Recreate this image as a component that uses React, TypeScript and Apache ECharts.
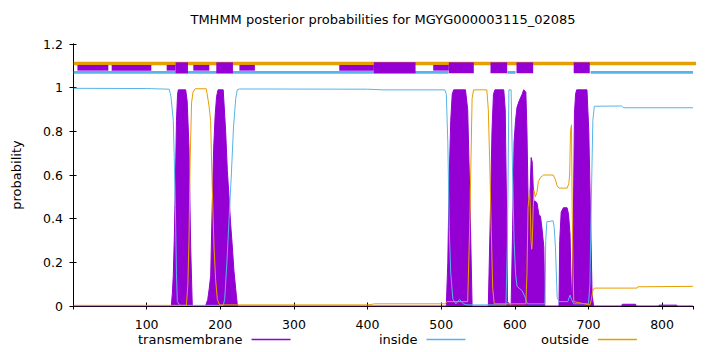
import React, { useEffect, useRef } from 'react';
import * as echarts from 'echarts';

const TITLE = 'TMHMM posterior probabilities for MGYG000003115_02085';
const SEQ_LENGTH = 842;
const X_TICK_STEP = 100;
const Y_TICK_STEP = 0.2;

const PURPLE = '#9400d3';
const BLUE = '#56b4e9';
const ORANGE = '#e69f00';
const FONT = 'DejaVu Sans';

// posterior probability of transmembrane helix, [residue, p]
const transmembrane: [number, number][] = [
  [1, 0], [133.5, 0], [135, 0.06], [136.2, 0.14], [137.5, 0.3], [139, 0.55], [140.5, 0.85], [142, 0.97],
  [143, 0.99], [153, 0.99], [155, 0.94], [157.5, 0.73], [159.8, 0.27], [162, 0],
  [180, 0], [183, 0.03], [185, 0.08], [187, 0.14], [189, 0.45], [191, 0.72], [193, 0.87], [195, 0.96],
  [197, 0.99], [204, 0.99], [207.3, 0.8], [209.6, 0.62], [211.9, 0.5], [214, 0.38], [216.4, 0.27],
  [218.6, 0.16], [220.9, 0.08], [223, 0.01], [224, 0],
  [507, 0], [509, 0.2], [511, 0.6], [513, 0.85], [515, 0.97], [517, 0.99], [533, 0.99], [536, 0.9],
  [539, 0.5], [542, 0],
  [564, 0], [565, 0.15], [567, 0.45], [569, 0.8], [571, 0.97], [573, 0.99], [585, 0.99], [587, 0.9],
  [589, 0.4], [590, 0.02], [595, 0],
  [597, 0.35], [599, 0.75], [601, 0.85], [603, 0.91], [606, 0.94], [610, 0.97], [612, 0.99], [615, 0.98],
  [616.5, 0.8], [618, 0.5], [619.5, 0.45], [621, 0.55], [622.2, 0.68], [623.6, 0.66], [625.8, 0.48],
  [628, 0.48], [630.3, 0.47], [632.6, 0.42], [634.9, 0.41], [637.1, 0.35], [639.4, 0.27], [640.7, 0],
  [660, 0], [661, 0.3], [663, 0.43], [666, 0.45], [671, 0.45], [673, 0.42], [675, 0.33], [676.5, 0.1],
  [677.5, 0], [678, 0], [679.5, 0.4], [681, 0.88], [682.5, 0.97], [684, 0.99], [698, 0.99], [700.5, 0.8],
  [702.8, 0.42], [705, 0.05], [707, 0],
  [745, 0], [746, 0.008], [764, 0.008], [765, 0], [795, 0], [796, 0.004], [820, 0.004], [821, 0], [842, 0],
];

// posterior probability of inside, [residue, p]
const inside: [number, number][] = [
  [1, 0.997], [100, 0.996], [130.7, 0.993], [133, 0.96], [136.2, 0.85], [137.5, 0.68], [139, 0.45],
  [140.5, 0.15], [141.7, 0.02], [145, 0.003],
  [204, 0.003], [206, 0.03], [209, 0.2], [212, 0.4], [215, 0.6], [218, 0.82], [221, 0.95], [223, 0.99],
  [226, 0.994], [400, 0.993], [420, 0.99], [505, 0.99], [507, 0.97], [509, 0.75], [511, 0.35],
  [513, 0.15], [516, 0.03], [520, 0.01], [525, 0.03], [530, 0.01], [535, 0.005],
  [588, 0.005], [590, 0.3], [592, 0.99], [595, 0.99], [597, 0.6], [599, 0.3], [601, 0.15], [603, 0.09],
  [610, 0.07], [614, 0.04], [617, 0.01], [641, 0.01], [642, 0.3], [643.5, 0.386], [652, 0.39],
  [653.5, 0.36], [655.2, 0.27], [657.5, 0.04], [660, 0.02], [672, 0.02], [675, 0.05], [677, 0.03],
  [680, 0.01], [700, 0.01], [702, 0.1], [704, 0.5], [706, 0.85], [708, 0.915], [745, 0.916],
  [748, 0.908], [842, 0.908],
];

// posterior probability of outside, [residue, p]
const outside: [number, number][] = [
  [1, 0.003], [154, 0.003], [156, 0.1], [157.5, 0.3], [159, 0.65], [161, 0.93], [163, 0.98], [166, 0.995],
  [181, 0.995], [184.6, 0.92], [186.9, 0.85], [189.2, 0.53], [191.5, 0.27], [193.7, 0.12], [196, 0.03],
  [199, 0.005], [400, 0.005], [410, 0.01], [505, 0.01], [508, 0.02], [536, 0.02], [539, 0.4], [542, 0.95],
  [544, 0.99], [562, 0.99], [564, 0.9], [566, 0.65], [568, 0.35], [570, 0.08], [572, 0.01], [615, 0.01],
  [616.5, 0.15], [618, 0.45], [620, 0.53], [621, 0.45], [622, 0.3], [623, 0.26], [623.6, 0.28], [625, 0.45],
  [626, 0.53], [628, 0.5], [630, 0.52], [632, 0.57], [635, 0.59], [639, 0.6], [652, 0.6], [655, 0.58],
  [657.5, 0.55], [660, 0.54], [671, 0.54], [673.3, 0.56], [674.5, 0.6], [675.6, 0.8], [677, 0.83],
  [677.9, 0.45], [679.2, 0.15], [680.1, 0.02], [702, 0.005], [704, 0.03], [706, 0.07], [708, 0.082],
  [766, 0.082], [767, 0.088], [842, 0.09],
];

// predicted topology strip at the top
const TOP_OUTSIDE_Y = 1.111;
const TOP_INSIDE_Y = 1.07;
const topOutsideSpan: [number, number] = [1, 879];
const topInsideSegments: [number, number][] = [[1, 510], [590, 601], [703, 842]];
const topTmBlocks: [number, number][] = [
  [6, 48], [52.5, 106.4], [127.2, 139.4], [163.4, 185.1], [226, 247], [361.6, 408.6], [489.2, 510.4],
];
const topTmBlocksTall: [number, number][] = [
  [139.4, 156.1], [194.6, 217.2], [408.6, 465.2], [510.4, 544.3], [567, 589.6], [602.3, 624.9], [680, 701.8],
];
const TM_BAND: [number, number] = [1.078, 1.104];
const TM_BAND_TALL: [number, number] = [1.066, 1.116];

function blockSeries(name: string, blocks: [number, number][], band: [number, number]) {
  return {
    type: 'custom',
    name,
    silent: true,
    z: 5,
    color: PURPLE,
    encode: { x: [0, 1], y: [2, 3] },
    data: blocks.map(([a, b]) => [a, b, band[0], band[1]]),
    renderItem: (_params: any, api: any) => {
      const s = api.coord([api.value(0), api.value(3)]);
      const e = api.coord([api.value(1), api.value(2)]);
      return {
        type: 'rect',
        shape: { x: s[0], y: s[1], width: e[0] - s[0], height: e[1] - s[1] },
        style: { fill: PURPLE },
      };
    },
  };
}

export default function App() {
  const ref = useRef<HTMLDivElement>(null);
  useEffect(() => {
    if (!ref.current) return;
    document.body.style.margin = '0';
    const chart = echarts.init(ref.current, null, { renderer: 'svg' });
    const axisLine = { show: true, lineStyle: { color: '#000', width: 1 } };
    const tick = { show: true, inside: true, length: 3.5, lineStyle: { color: '#000' } };
    const insideTop: any[] = [];
    topInsideSegments.forEach(([a, b]) => {
      insideTop.push([a, TOP_INSIDE_Y], [b, TOP_INSIDE_Y], [b, '-']);
    });
    const legendBase = {
      orient: 'horizontal',
      align: 'right',
      icon: 'rect',
      itemWidth: 39,
      itemHeight: 1.5,
      selectedMode: false,
      textStyle: { color: '#000', fontSize: 13, fontFamily: FONT, padding: [0, 4, 0, 0] },
      padding: 0,
    };
    const legendItem = (name: string, color: string) => ({
      name,
      icon: 'rect',
      itemStyle: { color, borderWidth: 0, opacity: 1 },
    });
    chart.setOption({
      animation: false,
      backgroundColor: '#fff',
      color: [PURPLE, BLUE, ORANGE, ORANGE, BLUE, PURPLE, PURPLE],
      title: {
        text: TITLE,
        left: 383,
        textAlign: 'center',
        top: 13,
        padding: 0,
        textStyle: { color: '#000', fontSize: 13, fontWeight: 'normal', fontFamily: FONT },
      },
      legend: [
        { ...legendBase, data: [legendItem('transmembrane', PURPLE)], left: 138, top: 333 },
        { ...legendBase, data: [legendItem('inside', BLUE)], left: 379, top: 333 },
        { ...legendBase, data: [legendItem('outside', ORANGE)], left: 541, top: 333 },
      ],
      grid: { left: 73, right: 27, top: 44, bottom: 46, containLabel: false },
      xAxis: [
        {
          type: 'value', min: 0, max: SEQ_LENGTH, interval: X_TICK_STEP,
          axisLine, axisTick: tick, splitLine: { show: false },
          axisLabel: {
            color: '#000', fontSize: 12.5, fontFamily: FONT, margin: 12,
            showMinLabel: false, showMaxLabel: false,
            formatter: (v: number) => (v > 0 && v % X_TICK_STEP === 0 ? String(v) : ''),
          },
        },
        {
          type: 'value', position: 'top', min: 0, max: SEQ_LENGTH, interval: X_TICK_STEP,
          axisLine, axisTick: tick, splitLine: { show: false }, axisLabel: { show: false },
        },
      ],
      yAxis: [
        {
          type: 'value', min: 0, max: 1.2, interval: Y_TICK_STEP,
          name: 'probability', nameLocation: 'middle', nameGap: 50,
          nameTextStyle: { color: '#000', fontSize: 13, fontFamily: FONT },
          axisLine, axisTick: tick, splitLine: { show: false },
          axisLabel: {
            color: '#000', fontSize: 12.5, fontFamily: FONT, margin: 10,
            formatter: (v: number) => String(Math.round(v * 10) / 10),
          },
        },
        {
          type: 'value', position: 'right', min: 0, max: 1.2, interval: Y_TICK_STEP,
          axisLine, axisTick: tick, splitLine: { show: false }, axisLabel: { show: false },
        },
      ],
      series: [
        {
          name: 'transmembrane', type: 'line', data: transmembrane, symbol: 'none', color: PURPLE,
          lineStyle: { color: PURPLE, width: 1 }, itemStyle: { color: PURPLE },
          areaStyle: { color: PURPLE, opacity: 1 }, z: 2, silent: true,
        },
        {
          name: 'inside', type: 'line', data: inside, symbol: 'none', color: BLUE,
          lineStyle: { color: BLUE, width: 1 }, itemStyle: { color: BLUE }, z: 3, silent: true,
        },
        {
          name: 'outside', type: 'line', data: outside, symbol: 'none', color: ORANGE,
          lineStyle: { color: ORANGE, width: 1 }, itemStyle: { color: ORANGE }, z: 3, silent: true,
        },
        {
          name: 'topOutside', type: 'line', symbol: 'none', clip: false, silent: true, color: ORANGE,
          data: topOutsideSpan.map((x) => [x, TOP_OUTSIDE_Y]),
          lineStyle: { color: ORANGE, width: 3.5 }, z: 4,
        },
        {
          name: 'topInside', type: 'line', symbol: 'none', silent: true, connectNulls: false, color: BLUE,
          data: insideTop,
          lineStyle: { color: BLUE, width: 2.7 }, z: 4,
        },
        blockSeries('topTm', topTmBlocks, TM_BAND),
        blockSeries('topTmTall', topTmBlocksTall, TM_BAND_TALL),
      ],
    });
    return () => chart.dispose();
  }, []);
  return <div ref={ref} style={{ width: 720, height: 352 }} />;
}
